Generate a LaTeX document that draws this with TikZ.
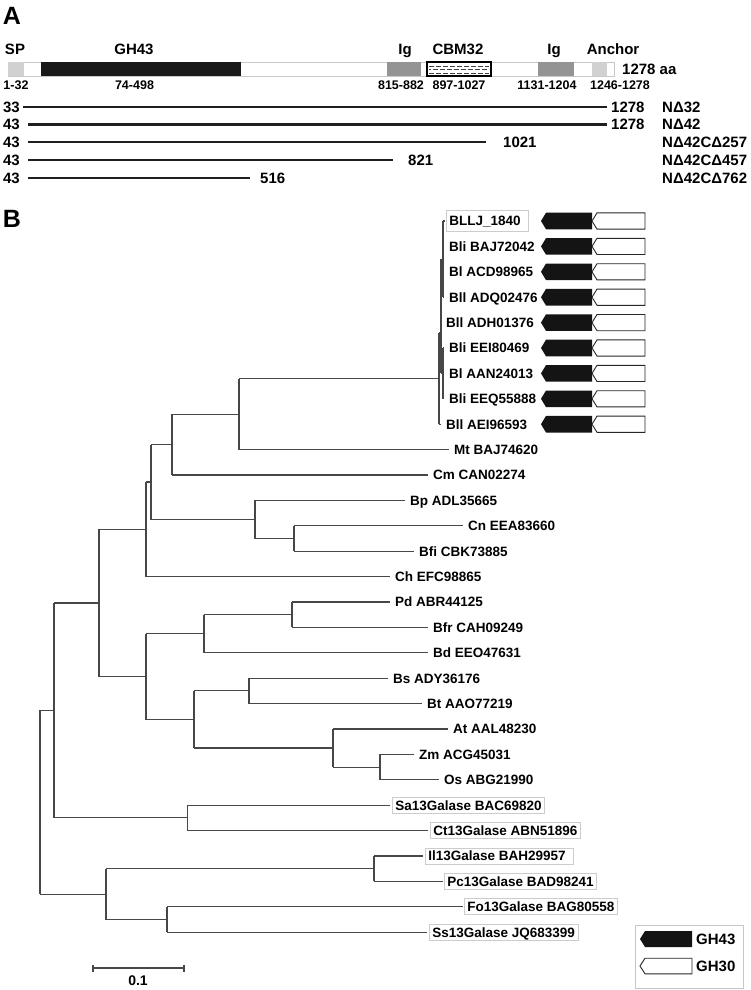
\documentclass[tikz,border=0pt]{standalone}
\usepackage{fontspec}
\setmainfont{Liberation Sans}
\newcommand\treefont{\fontsize{13.5}{15}\selectfont\bfseries}
\newcommand\domfont{\fontsize{15}{17}\selectfont\bfseries}
\newcommand\posfont{\fontsize{12.5}{14}\selectfont\bfseries}
\tikzset{
  genepair/.pic={
    \fill[black!92] (0,0) -- (5,-8.3) -- (51,-8.3) -- (51,8.3) -- (5,8.3) -- cycle;
    \draw[black!85, line width=0.9pt, fill=white] (51,0) -- (56,-8.1) -- (104,-8.1) -- (104,8.1) -- (56,8.1) -- cycle;
  },
  blackarrow/.pic={
    \fill[black!92] (0,0) -- (5,-8) -- (52,-8) -- (52,8) -- (5,8) -- cycle;
  },
  whitearrow/.pic={
    \draw[black!85, line width=0.9pt, fill=white] (0,0) -- (5,-7.8) -- (52,-7.8) -- (52,7.8) -- (5,7.8) -- cycle;
  }
}
\begin{document}
\begin{tikzpicture}[x=1pt,y=-1pt,
  tl/.style={font=\treefont, anchor=west, inner xsep=5pt, inner ysep=0pt, text height=9.7pt, text depth=0pt},
  tlbox/.style={tl, draw=black!20, line width=0.8pt, inner xsep=3pt, inner ysep=3.2pt},
  br/.style={draw=black!72, line width=1.1pt},
  dom/.style={font=\domfont, inner sep=0pt, text height=10.7pt, text depth=0pt},
  poslbl/.style={font=\posfont, inner sep=0pt, text height=9pt, text depth=0pt},
  cons/.style={draw=black!88, line width=2.7pt},
  dombox/.style={anchor=north west, minimum height=14pt, inner sep=0pt, outer sep=0pt},
  big/.style={font=\fontsize{25}{28}\selectfont\bfseries, inner sep=0pt}
]
\useasboundingbox (0,0) rectangle (750,990);

% ---------------- Panel A ----------------
\node[big] (lblA) at (12,16) {A};

\draw[black!22, line width=0.9pt, fill=white] (8,62) rectangle (614,76);
\node[dombox, fill=black!18, minimum width=16pt] (sp) at (8,62) {};
\node[dombox, fill=black!90, minimum width=200pt] (gh) at (41,62) {};
\node[dombox, fill=black!42, minimum width=34pt] (ig1) at (387,62) {};
\node[dombox, fill=white, draw=black, line width=1.2pt, minimum width=64pt] (cbm) at (427,62) {};
\foreach \yy/\ph in {66/0, 69.5/3, 73/0}
  \draw[black!75, line width=0.6pt, dash pattern=on 5pt off 2pt, dash phase=\ph pt] (429,\yy) -- (489,\yy);
\node[dombox, fill=black!42, minimum width=36pt] (ig2) at (538,62) {};
\node[dombox, fill=black!18, minimum width=15pt] (anc) at (592,62) {};

\node[dom] (tSP) at (15,49) {SP};
\node[dom] (tGH) at (134,49) {GH43};
\node[dom] (tIg1) at (405,49) {Ig};
\node[dom] (tCBM) at (458,49) {CBM32};
\node[dom] (tIg2) at (554,49) {Ig};
\node[dom] (tAnc) at (613,49) {Anchor};
\node[dom, anchor=west] (tLen) at (622,69) {1278 aa};

\node[poslbl] (pSP) at (16,85) {1-32};
\node[poslbl] (pGH) at (134.5,85) {74-498};
\node[poslbl] (pIg1) at (401,85) {815-882};
\node[poslbl] (pCBM) at (459,85) {897-1027};
\node[poslbl] (pIg2) at (547,85) {1131-1204};
\node[poslbl] (pAnc) at (620,85) {1246-1278};

% constructs
\foreach \i/\yy/\xs/\xe/\s/\e/\xl/\nm in {
  1/107/23/607/33/1278/611/NΔ32,
  2/124.5/28/607/43/1278/611/NΔ42,
  3/142/28/486/43/1021/503/NΔ42CΔ257,
  4/160/28/393/43/821/408/NΔ42CΔ457,
  5/178/28/250/43/516/260/NΔ42CΔ762}{
  \coordinate (cs\i) at (\xs,\yy);
  \coordinate (ce\i) at (\xe,\yy);
  \draw[cons] (cs\i) -- (ce\i);
  \node[dom, anchor=east] (ls\i) at (20,\yy) {\s};
  \node[dom, anchor=west] (le\i) at (\xl,\yy) {\e};
  \node[dom, anchor=west] (nm\i) at (662,\yy) {\nm};
}

% ---------------- Panel B ----------------
\node[big] (lblB) at (12,219) {B};

% leaves
\node[tl, draw=black!20, line width=0.8pt, inner xsep=3pt, inner ysep=6pt] (n0) at (446,221) {BLLJ\_1840\kern5pt};
\node[tl] (n1) at (444,246.4) {Bli BAJ72042};
\node[tl] (n2) at (444,271.8) {Bl ACD98965};
\node[tl] (n3) at (444,297.2) {Bll ADQ02476};
\node[tl] (n4) at (441,322.6) {Bll ADH01376};
\node[tl] (n5) at (444,348) {Bli EEI80469};
\node[tl] (n6) at (444,373.4) {Bl AAN24013};
\node[tl] (n7) at (444,398.8) {Bli EEQ55888};
\node[tl] (n8) at (441,424.2) {Bll AEI96593};
\node[tl] (n9) at (449,449.6) {Mt BAJ74620};
\node[tl] (n10) at (428,475) {Cm CAN02274};
\node[tl] (n11) at (405,500.4) {Bp ADL35665};
\node[tl] (n12) at (463,525.8) {Cn EEA83660};
\node[tl] (n13) at (414,551.2) {Bfi CBK73885};
\node[tl] (n14) at (390,576.6) {Ch EFC98865};
\node[tl] (n15) at (390,602) {Pd ABR44125};
\node[tl] (n16) at (428,627.4) {Bfr CAH09249};
\node[tl] (n17) at (428,652.8) {Bd EEO47631};
\node[tl] (n18) at (388,678.2) {Bs ADY36176};
\node[tl] (n19) at (422,703.6) {Bt AAO77219};
\node[tl] (n20) at (448,729) {At AAL48230};
\node[tl] (n21) at (414,754.4) {Zm ACG45031};
\node[tl] (n22) at (439,779.8) {Os ABG21990};
\node[tlbox] (n23) at (392,805.2) {Sa13Galase BAC69820};
\node[tlbox] (n24) at (430,830.6) {Ct13Galase ABN51896};
\node[tlbox] (n25) at (425,856) {Il13Galase BAH29957\kern5pt};
\node[tlbox] (n26) at (444,881.4) {Pc13Galase BAD98241};
\node[tlbox] (n27) at (464,906.8) {Fo13Galase BAG80558};
\node[tlbox] (n28) at (429,932.2) {Ss13Galase JQ683399};

% gene arrows
\foreach \yy in {221,246.4,271.8,297.2,322.6,348,373.4,398.8,424.2}
  \pic at (541,\yy) {genepair};

% internal nodes
\coordinate (T) at (443,259.1);
\coordinate (U) at (443,373.4);
\coordinate (Q) at (441,333);
\coordinate (P) at (439,378.6);
\coordinate (C4) at (239,414.3);
\coordinate (C2) at (172,444.6);
\coordinate (C5) at (294,538.5);
\coordinate (C3) at (255,519.5);
\coordinate (C1) at (151,482);
\coordinate (C) at (146,529.3);
\coordinate (E1) at (292,614.7);
\coordinate (E) at (204,633.7);
\coordinate (F1) at (249,690.9);
\coordinate (F3) at (380,767.1);
\coordinate (F2) at (333,748);
\coordinate (F) at (194,719.5);
\coordinate (D) at (146,676.6);
\coordinate (B) at (99,603);
\coordinate (G) at (187.5,817.9);
\coordinate (A) at (54,710.4);
\coordinate (Z1) at (374,868.7);
\coordinate (Z2) at (167,919.5);
\coordinate (Z) at (106,894.1);
\coordinate (R) at (40,802);

% verticals and horizontals
\draw[br] (T |- n0.west) -- (T |- n3.west);
\foreach \n in {n1,n2,n3} \draw[br] (T |- \n.west) -- (\n.west);
\draw[br] (T |- n0.west) -- ([xshift=-1pt]n0.west);
\draw[br] (U |- n5.west) -- (U |- n7.west);
\foreach \n in {n5,n6,n7} \draw[br] (U |- \n.west) -- (\n.west);
\draw[br] (Q |- T) -- (Q |- U);
\draw[br] (Q |- T) -- (T);
\draw[br] (Q |- U) -- (U);
\draw[br] (Q |- n4.west) -- (n4.west);
\draw[br] (P |- Q) -- (P |- n8.west);
\draw[br] (P |- Q) -- (Q);
\draw[br] (P |- n8.west) -- (n8.west);
\draw[br] (C4 |- P) -- (C4 |- n9.west);
\draw[br] (C4 |- P) -- (P);
\draw[br] (C4 |- n9.west) -- (n9.west);
\draw[br] (C2 |- C4) -- (C2 |- n10.west);
\draw[br] (C2 |- C4) -- (C4);
\draw[br] (C2 |- n10.west) -- (n10.west);
\draw[br] (C5 |- n12.west) -- (C5 |- n13.west);
\draw[br] (C5 |- n12.west) -- (n12.west);
\draw[br] (C5 |- n13.west) -- (n13.west);
\draw[br] (C3 |- n11.west) -- (C3 |- C5);
\draw[br] (C3 |- n11.west) -- (n11.west);
\draw[br] (C3 |- C5) -- (C5);
\draw[br] (C1 |- C2) -- (C1 |- C3);
\draw[br] (C1 |- C2) -- (C2);
\draw[br] (C1 |- C3) -- (C3);
\draw[br] (C |- C1) -- (C |- n14.west);
\draw[br] (C |- C1) -- (C1);
\draw[br] (C |- n14.west) -- (n14.west);
\draw[br] (E1 |- n15.west) -- (E1 |- n16.west);
\draw[br] (E1 |- n15.west) -- (n15.west);
\draw[br] (E1 |- n16.west) -- (n16.west);
\draw[br] (E |- E1) -- (E |- n17.west);
\draw[br] (E |- E1) -- (E1);
\draw[br] (E |- n17.west) -- (n17.west);
\draw[br] (F1 |- n18.west) -- (F1 |- n19.west);
\draw[br] (F1 |- n18.west) -- (n18.west);
\draw[br] (F1 |- n19.west) -- (n19.west);
\draw[br] (F3 |- n21.west) -- (F3 |- n22.west);
\draw[br] (F3 |- n21.west) -- (n21.west);
\draw[br] (F3 |- n22.west) -- (n22.west);
\draw[br] (F2 |- n20.west) -- (F2 |- F3);
\draw[br] (F2 |- n20.west) -- (n20.west);
\draw[br] (F2 |- F3) -- (F3);
\draw[br] (F |- F1) -- (F |- F2);
\draw[br] (F |- F1) -- (F1);
\draw[br] (F |- F2) -- (F2);
\draw[br] (D |- E) -- (D |- F);
\draw[br] (D |- E) -- (E);
\draw[br] (D |- F) -- (F);
\draw[br] (B |- C) -- (B |- D);
\draw[br] (B |- C) -- (C);
\draw[br] (B |- D) -- (D);
\draw[br] (G |- n23.west) -- (G |- n24.west);
\draw[br, shorten >=2pt] (G |- n23.west) -- (n23.west);
\draw[br, shorten >=2pt] (G |- n24.west) -- (n24.west);
\draw[br] (A |- B) -- (A |- G);
\draw[br] (A |- B) -- (B);
\draw[br] (A |- G) -- (G);
\draw[br] (Z1 |- n25.west) -- (Z1 |- n26.west);
\draw[br, shorten >=2pt] (Z1 |- n25.west) -- (n25.west);
\draw[br, shorten >=1pt] (Z1 |- n26.west) -- (n26.west);
\draw[br] (Z2 |- n27.west) -- (Z2 |- n28.west);
\draw[br, shorten >=1pt] (Z2 |- n27.west) -- (n27.west);
\draw[br, shorten >=2pt] (Z2 |- n28.west) -- (n28.west);
\draw[br] (Z |- Z1) -- (Z |- Z2);
\draw[br] (Z |- Z1) -- (Z1);
\draw[br] (Z |- Z2) -- (Z2);
\draw[br] (R |- A) -- (R |- Z);
\draw[br] (R |- A) -- (A);
\draw[br] (R |- Z) -- (Z);

% scale bar
\coordinate (sb1) at (93,968);
\coordinate (sb2) at (184,968);
\draw[br] (sb1) -- (sb2);
\draw[br] ([yshift=-3.5pt]sb1) -- ([yshift=3.5pt]sb1);
\draw[br] ([yshift=-3.5pt]sb2) -- ([yshift=3.5pt]sb2);
\node[font=\fontsize{14}{16}\selectfont\bfseries, inner sep=0pt] (sbl) at (138,981) {0.1};

% legend
\node[draw=black!22, line width=0.8pt, minimum width=108pt, minimum height=63pt, anchor=north west, inner sep=0pt] (leg) at (635,925) {};
\pic at (640,939) {blackarrow};
\pic at (640,966) {whitearrow};
\node[dom, anchor=west] (lg43) at (696,939) {GH43};
\node[dom, anchor=west] (lg30) at (696,966) {GH30};
\end{tikzpicture}
\end{document}
